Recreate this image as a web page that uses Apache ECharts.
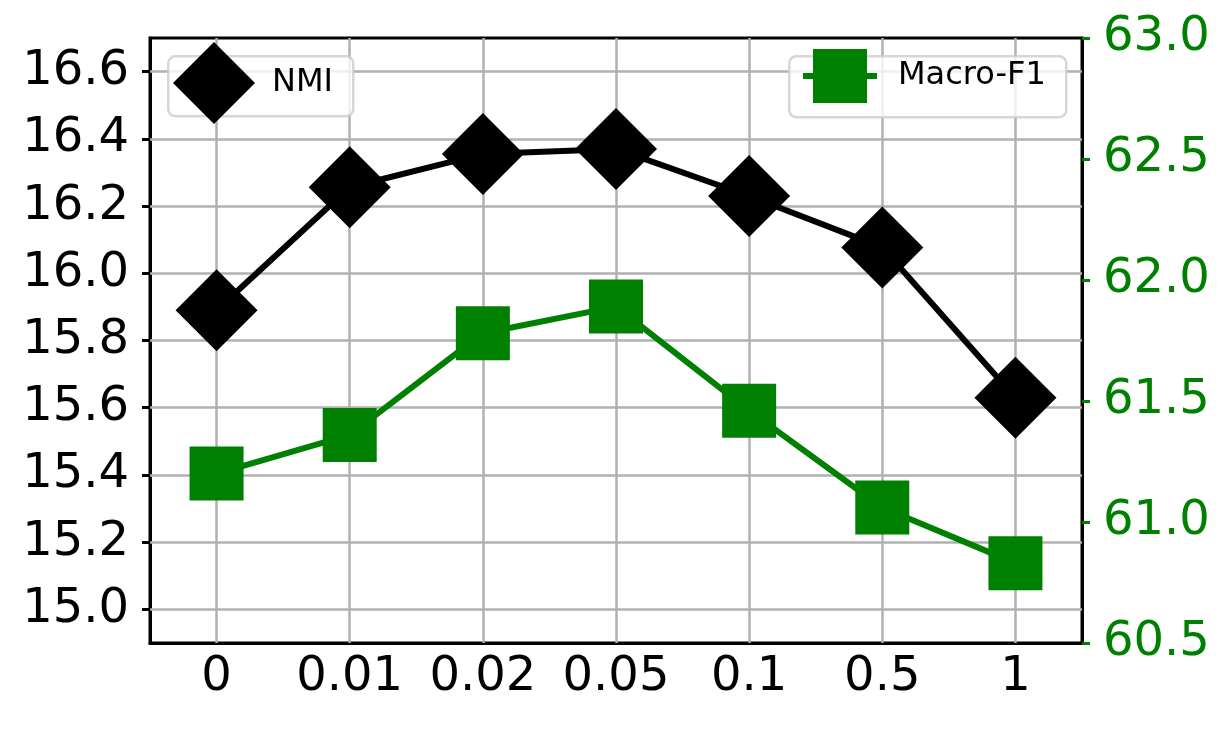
<!DOCTYPE html>
<html>
<head>
<meta charset="utf-8">
<script src="https://cdn.jsdelivr.net/npm/echarts@6/dist/echarts.min.js"></script>
<style>
html,body{margin:0;padding:0;background:#fff;}
#chart{width:1232px;height:731px;}
</style>
</head>
<body>
<div id="chart"></div>
<script>
const categories = ['0', '0.01', '0.02', '0.05', '0.1', '0.5', '1'];
const nmiValues = [15.89, 16.256, 16.355, 16.37, 16.23, 16.077, 15.63];
const macroF1Values = [61.20, 61.36, 61.78, 61.89, 61.46, 61.06, 60.83];
const leftTicks = [15.0, 15.2, 15.4, 15.6, 15.8, 16.0, 16.2, 16.4, 16.6];
const rightTicks = [60.5, 61.0, 61.5, 62.0, 62.5, 63.0];

const FONT = 'DejaVu Sans';
const GREEN = '#008000';
const GRIDC = '#b0b0b0';

const chart = echarts.init(document.getElementById('chart'), null, {renderer: 'canvas'});

const option = {
  animation: false,
  backgroundColor: '#ffffff',
  grid: {
    left: 150, right: 150, top: 38, bottom: 88,
    show: true, borderColor: '#000', borderWidth: 3, backgroundColor: 'transparent'
  },
  graphic: [
    {type: 'rect', z: 3, left: 167, top: 55, shape: {width: 185, height: 60, r: 7},
     style: {fill: 'rgba(255,255,255,0.8)', stroke: 'rgba(204,204,204,0.8)', lineWidth: 2.5}},
    {type: 'rect', z: 3, left: 788, top: 55, shape: {width: 277, height: 61, r: 7},
     style: {fill: 'rgba(255,255,255,0.8)', stroke: 'rgba(204,204,204,0.8)', lineWidth: 2.5}}
  ],
  legend: [
    {
      data: [{name: 'NMI', icon: 'diamond'}], left: 173, top: 42, padding: 0,
      itemWidth: 82, itemHeight: 82,
      orient: 'horizontal', z: 10, selectedMode: false,
      textStyle: {fontFamily: FONT, fontSize: 32, color: '#000', padding: [0, 0, 0, 12]}
    },
    {
      data: ['Macro-F1'], left: 800, top: 49, padding: 0, itemWidth: 74, itemHeight: 67.5,
      orient: 'horizontal', z: 10, selectedMode: false,
      lineStyle: {width: 6},
      textStyle: {fontFamily: FONT, fontSize: 32, color: '#000', padding: [0, 0, 0, 16]}
    }
  ],
  xAxis: {
    type: 'category', data: categories, boundaryGap: true,
    axisLine: {lineStyle: {color: '#000', width: 3}},
    axisTick: {alignWithLabel: true, interval: 0, length: 8, lineStyle: {color: '#000', width: 3}},
    axisLabel: {fontFamily: FONT, fontSize: 48, color: '#000', margin: 11, interval: 0},
    splitLine: {show: false}
  },
  yAxis: [
    {
      type: 'value', min: 14.9, max: 16.7, position: 'left',
      axisLine: {show: true, lineStyle: {color: '#000', width: 3}},
      axisTick: {show: true, length: 8, customValues: leftTicks, lineStyle: {color: '#000', width: 3}},
      axisLabel: {fontFamily: FONT, fontSize: 48, color: '#000', margin: 21, customValues: leftTicks,
                  formatter: v => Number(v).toFixed(1)},
      splitLine: {show: false}
    },
    {
      type: 'value', min: 60.5, max: 63.0, interval: 0.5, position: 'right',
      axisLine: {show: true, lineStyle: {color: '#000', width: 3}},
      axisTick: {show: true, length: 8, lineStyle: {color: GREEN, width: 3}},
      axisLabel: {fontFamily: FONT, fontSize: 48, color: GREEN, margin: 21,
                  formatter: v => Number(v).toFixed(1)},
      splitLine: {show: false}
    }
  ],
  series: [
    {
      name: 'NMI', type: 'line', yAxisIndex: 0, data: nmiValues,
      symbol: 'diamond', symbolSize: 82, z: 2,
      lineStyle: {color: '#000', width: 6},
      itemStyle: {color: '#000'},
      markLine: {
        silent: true, symbol: 'none', z: 1, animation: false,
        label: {show: false},
        lineStyle: {color: GRIDC, width: 2.5, type: 'solid'},
        emphasis: {disabled: true},
        data: categories.map((c, i) => ({xAxis: i})).concat(leftTicks.map(t => ({yAxis: t})))
      }
    },
    {
      name: 'Macro-F1', type: 'line', yAxisIndex: 1, data: macroF1Values,
      symbol: 'rect', symbolSize: 54, z: 3,
      lineStyle: {color: GREEN, width: 6},
      itemStyle: {color: GREEN}
    }
  ]
};
chart.setOption(option);
</script>
</body>
</html>
